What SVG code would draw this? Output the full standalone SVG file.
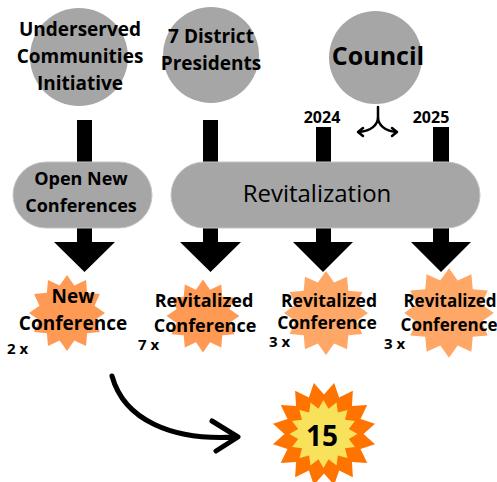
<svg xmlns="http://www.w3.org/2000/svg" xmlns:xlink="http://www.w3.org/1999/xlink" width="497" height="482" viewBox="0 0 497 482">
<style>
.node{fill:#a6a6a6}
.pill{fill:#a6a6a6;stroke:#c4c4c4;stroke-width:1}
.t{font-family:"Open Sans","Liberation Sans",sans-serif;font-weight:bold;fill:#000;text-anchor:middle}
.reg{font-family:"Open Sans","Liberation Sans",sans-serif;font-weight:normal;fill:#000;text-anchor:middle}
.sm{font-family:"Open Sans","Liberation Sans",sans-serif;font-weight:bold;fill:#000;font-size:15px}
.bar{fill:#000}
.line{fill:none;stroke:#000;stroke-linecap:round;stroke-linejoin:round}
</style>
<defs>
<polygon id="burst12" points="0,-40 7.76,-28.98 20,-34.64 21.21,-21.21 34.64,-20 28.98,-7.76 40,0 28.98,7.76 34.64,20 21.21,21.21 20,34.64 7.76,28.98 0,40 -7.76,28.98 -20,34.64 -21.21,21.21 -34.64,20 -28.98,7.76 -40,0 -28.98,-7.76 -34.64,-20 -21.21,-21.21 -20,-34.64 -7.76,-28.98"/>
<polygon id="burst16" points="0,-50 7.41,-37.27 19.13,-46.19 21.11,-31.6 35.36,-35.36 31.6,-21.11 46.19,-19.13 37.27,-7.41 50,0 37.27,7.41 46.19,19.13 31.6,21.11 35.36,35.36 21.11,31.6 19.13,46.19 7.41,37.27 0,50 -7.41,37.27 -19.13,46.19 -21.11,31.6 -35.36,35.36 -31.6,21.11 -46.19,19.13 -37.27,7.41 -50,0 -37.27,-7.41 -46.19,-19.13 -31.6,-21.11 -35.36,-35.36 -21.11,-31.6 -19.13,-46.19 -7.41,-37.27"/>
</defs>

<g id="connectors">
<rect class="bar" x="77" y="120" width="15" height="50"/>
<rect class="bar" x="203" y="120" width="15" height="50"/>
<rect class="bar" x="316" y="127" width="15" height="43"/>
<rect class="bar" x="433" y="127" width="16" height="43"/>
<polygon class="bar" points="77,220 92,220 92,242 115,242 84.5,272 54,242 77,242"/>
<polygon class="bar" points="203,220 218,220 218,242 241,242 210.5,272 180,242 203,242"/>
<polygon class="bar" points="316,220 331,220 331,242 353,242 323,272 293,242 316,242"/>
<polygon class="bar" points="433,220 449,220 449,242 471,242 441,272 411,242 433,242"/>
<path class="line" stroke-width="2.5" d="M378,107 L378,117 C378,125 371,131 359,132 M378,117 C378,125 385,131 396,132 M363,128 L358,132 L363,136 M392,128 L397,132 L392,136"/>
<path class="line" stroke-width="5" d="M112,376 C124,420 172,441 236,437 M212,421 L238,437 L216,451"/>
</g>

<g id="uci">
<circle class="node" cx="79" cy="57" r="49"/>
<text class="t" font-size="19" x="80" y="36">Underserved</text>
<text class="t" font-size="19" x="80" y="63">Communities</text>
<text class="t" font-size="19" x="80" y="90">Initiative</text>
</g>
<g id="presidents">
<circle class="node" cx="211" cy="55" r="48"/>
<text class="t" font-size="19" x="211" y="43">7 District</text>
<text class="t" font-size="19" x="211" y="70">Presidents</text>
</g>
<g id="council">
<circle class="node" cx="375.5" cy="57.5" r="46.5"/>
<text class="t" font-size="25" x="378" y="65">Council</text>
</g>
<g id="years">
<text class="t" font-size="16" x="322" y="123">2024</text>
<text class="t" font-size="16" x="431" y="123">2025</text>
</g>

<g id="open-new">
<rect class="pill" x="13" y="162" width="139" height="66" rx="33"/>
<text class="t" font-size="18" x="81" y="185">Open New</text>
<text class="t" font-size="18" x="81" y="212">Conferences</text>
</g>
<g id="revitalization">
<rect class="pill" x="171" y="162" width="309" height="66" rx="33"/>
<text class="reg" font-size="24" x="317" y="202">Revitalization</text>
</g>

<g id="new-conference">
<use xlink:href="#burst12" fill="#ff9a55" transform="translate(67,313) scale(0.95)"/>
<text class="t" font-size="19" x="73" y="303">New</text>
<text class="t" font-size="19" x="73" y="330">Conference</text>
<text class="sm" x="7" y="354">2 x</text>
</g>
<g id="revitalized-1">
<use xlink:href="#burst12" fill="#ff9a55" transform="translate(203,316) scale(0.91)"/>
<text class="t" font-size="18" x="204" y="307">Revitalized</text>
<text class="t" font-size="18" x="205" y="332">Conference</text>
<text class="sm" x="138" y="350">7 x</text>
</g>
<g id="revitalized-2">
<use xlink:href="#burst12" fill="#ffa766" transform="translate(326,313) scale(1.05)"/>
<text class="t" font-size="17.5" x="329" y="307">Revitalized</text>
<text class="t" font-size="17.5" x="327" y="329">Conference</text>
<text class="sm" x="269" y="347">3 x</text>
</g>
<g id="revitalized-3">
<use xlink:href="#burst12" fill="#ffa766" transform="translate(449,313) scale(1.12)"/>
<text class="t" font-size="17" x="450" y="307">Revitalized</text>
<text class="t" font-size="17" x="449" y="331">Conference</text>
<text class="sm" x="384" y="349">3 x</text>
</g>

<g id="total">
<use xlink:href="#burst16" fill="#ff7300" transform="translate(324,434) rotate(11.25) scale(1.04)"/>
<use xlink:href="#burst16" fill="#f8e25c" transform="translate(323.5,434) scale(0.68)"/>
<text class="t" font-size="28" x="322" y="446">15</text>
</g>
</svg>
